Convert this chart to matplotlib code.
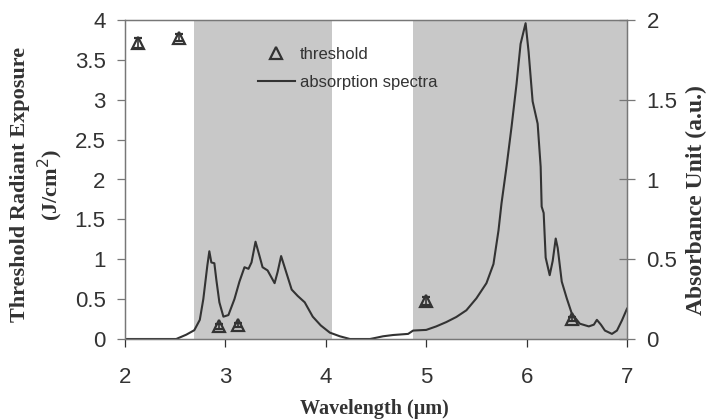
import matplotlib
matplotlib.use("Agg")
import matplotlib.pyplot as plt
from matplotlib.lines import Line2D

# threshold radiant exposure (left axis, J/cm^2)
thr_wl = [2.13, 2.54, 2.94, 3.13, 5.0, 6.45]
thr_val = [3.71, 3.78, 0.16, 0.175, 0.48, 0.25]
thr_err = [0.06, 0.04, 0.03, 0.03, 0.05, 0.03]

# absorption spectrum (right axis, a.u.)
spec_wl = [2.0, 2.3, 2.51, 2.61, 2.69, 2.745, 2.78, 2.82, 2.84, 2.86, 2.89,
           2.91, 2.94, 2.98, 3.03, 3.09, 3.14, 3.19, 3.23, 3.26, 3.30, 3.34,
           3.37, 3.42, 3.49, 3.52, 3.555, 3.59, 3.66, 3.72, 3.79, 3.87, 3.95,
           4.04, 4.14, 4.24, 4.44, 4.48, 4.57, 4.67, 4.82, 4.87, 5.0, 5.1,
           5.2, 5.3, 5.4, 5.5, 5.6, 5.67, 5.72, 5.75, 5.80, 5.85, 5.90, 5.94,
           5.99, 6.02, 6.06, 6.11, 6.14, 6.15, 6.17, 6.19, 6.23, 6.26, 6.29,
           6.31, 6.35, 6.40, 6.45, 6.53, 6.62, 6.67, 6.70, 6.74, 6.78, 6.85,
           6.90, 6.95, 7.0]
spec_abs = [0.0, 0.0, 0.0, 0.027, 0.055, 0.12, 0.25, 0.46, 0.55, 0.48, 0.475,
            0.37, 0.23, 0.14, 0.15, 0.25, 0.36, 0.45, 0.44, 0.48, 0.61, 0.52,
            0.45, 0.43, 0.35, 0.42, 0.52, 0.45, 0.31, 0.27, 0.23, 0.14, 0.085,
            0.04, 0.017, 0.0, 0.0, 0.005, 0.017, 0.025, 0.032, 0.053, 0.057,
            0.079, 0.106, 0.138, 0.18, 0.255, 0.35, 0.47, 0.68, 0.85, 1.08,
            1.33, 1.6, 1.85, 1.98, 1.8, 1.49, 1.35, 1.08, 0.83, 0.79, 0.51,
            0.40, 0.49, 0.63, 0.57, 0.36, 0.255, 0.16, 0.096, 0.079, 0.09,
            0.12, 0.09, 0.053, 0.032, 0.053, 0.117, 0.19]

# shaded wavelength bands
bands = [(2.69, 4.06), (4.87, 7.0)]

plt.rcParams["font.family"] = "Liberation Sans"

fig = plt.figure(figsize=(7.11, 4.19), dpi=100)
ax = fig.add_axes([125 / 711, 1 - 339 / 419, 502 / 711, 319 / 419])
ax2 = ax.twinx()

# bands and spectrum on the right axis, thresholds on top
for lo, hi in bands:
    ax2.axvspan(lo, hi, color="#c8c8c8", lw=0, zorder=0)
ax2.plot(spec_wl, spec_abs, color="#333333", lw=1.5, zorder=2)

ax.set_zorder(ax2.get_zorder() + 1)
ax.patch.set_visible(False)
ax.errorbar(thr_wl, thr_val, yerr=thr_err, fmt="^", ms=8, mfc="none",
            mec="#333333", mew=1.6, ecolor="#333333", elinewidth=1.2,
            capsize=3, zorder=5)

ax.set_xlim(2, 7)
ax.set_ylim(0, 4)
ax2.set_ylim(0, 2)
ax.set_xticks([2, 3, 4, 5, 6, 7])
ax.set_yticks([0, 0.5, 1, 1.5, 2, 2.5, 3, 3.5, 4])
ax.set_yticklabels(["0", "0.5", "1", "1.5", "2", "2.5", "3", "3.5", "4"])
ax2.set_yticks([0, 0.5, 1, 1.5, 2])
ax2.set_yticklabels(["0", "0.5", "1", "1.5", "2"])

for a in (ax, ax2):
    for s in a.spines.values():
        s.set_color("#777777")
        s.set_linewidth(0.9)
ax.tick_params(axis="both", labelsize=16, colors="#333333", length=6,
               width=0.9, pad=8)
ax.tick_params(axis="x", pad=14)
ax.tick_params(axis="y", color="#777777")
ax2.tick_params(axis="y", labelsize=16, labelcolor="#333333", color="#777777",
                direction="inout", length=12, width=0.9, pad=8)

serif = "Liberation Serif"
fig.text(20 / 711, 1 - 184 / 419, "Threshold Radiant Exposure",
         rotation=90, ha="center", va="center", family=serif,
         fontweight="bold", fontsize=16, color="#333333")
fig.text(50 / 711, 1 - 185 / 419, "(J/cm$^2$)", rotation=90, ha="center",
         va="center", family=serif, fontweight="bold", fontsize=16,
         color="#333333")
fig.text(696 / 711, 1 - 200 / 419, "Absorbance Unit (a.u.)", rotation=90,
         ha="center", va="center", family=serif, fontweight="bold",
         fontsize=17, color="#333333")
fig.text(374 / 711, 1 - 409 / 419, "Wavelength (\u03bcm)", ha="center",
         va="center", family=serif, fontweight="bold", fontsize=14.5,
         color="#333333")

handles = [
    Line2D([], [], ls="none", marker="^", ms=9, mfc="none", mec="#333333",
           mew=1.6),
    Line2D([], [], color="#333333", lw=1.5),
]
leg = ax.legend(handles, ["threshold", "absorption spectra"],
                loc="upper left", bbox_to_anchor=(258 / 711, 1 - 47 / 419),
                bbox_transform=fig.transFigure, frameon=False, fontsize=12,
                borderpad=0, borderaxespad=0, handlelength=2.2,
                handletextpad=0.3, labelspacing=0.75)
for t in leg.get_texts():
    t.set_color("#333333")

fig.savefig("out.png", dpi=100)
